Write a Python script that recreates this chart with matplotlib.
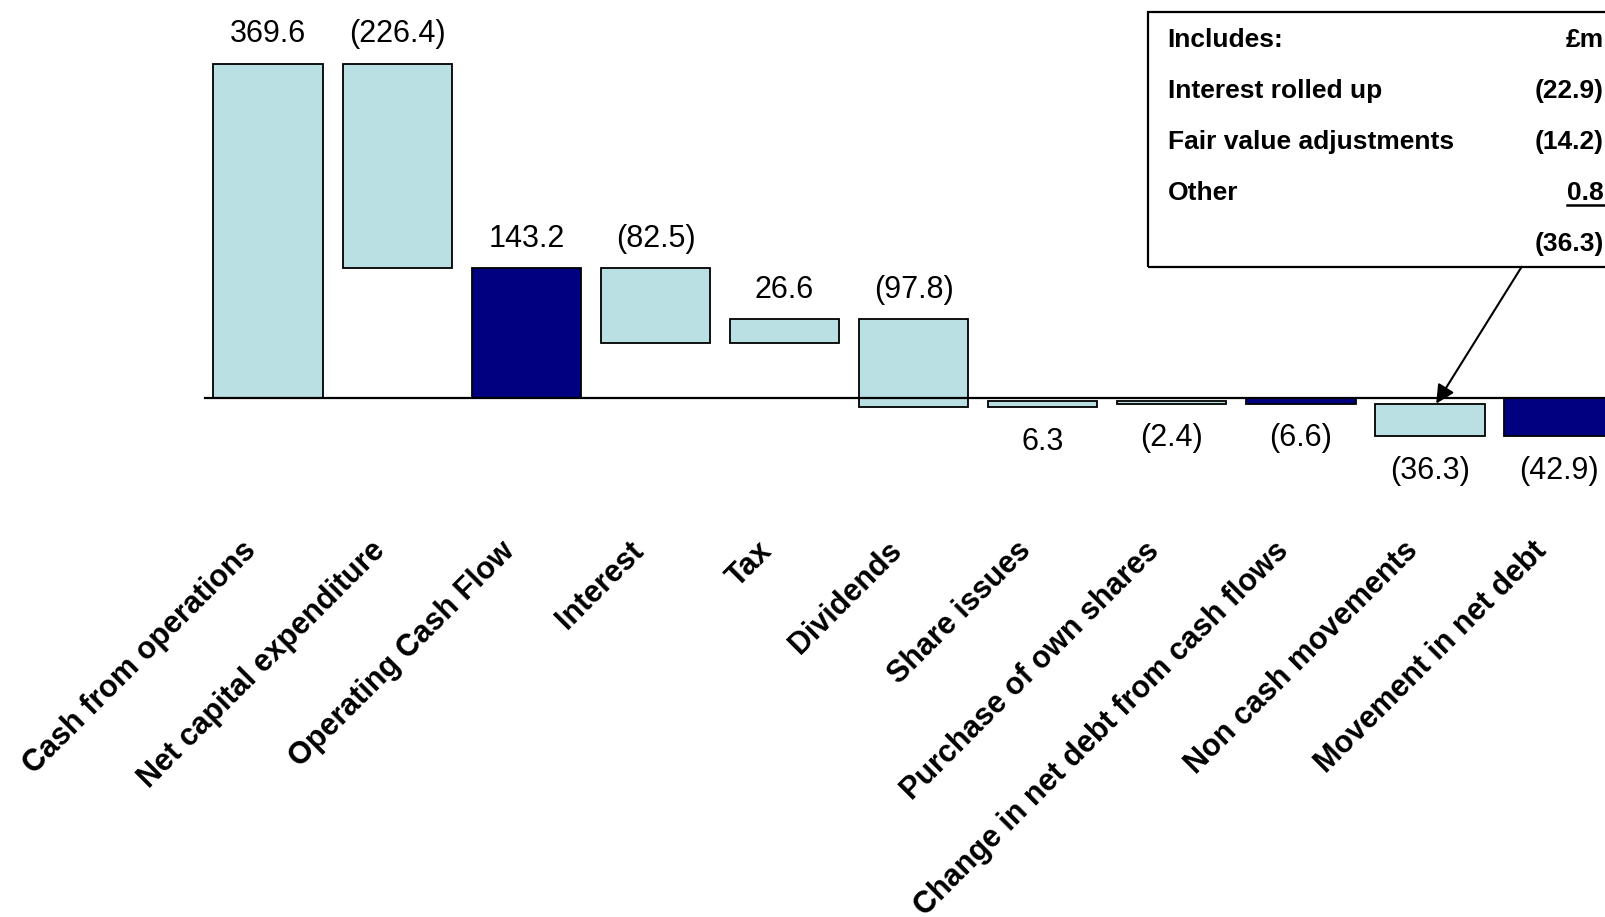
import numpy as np
import matplotlib
matplotlib.use('Agg')
import matplotlib.pyplot as plt
from matplotlib.patches import Rectangle
from matplotlib.lines import Line2D
from matplotlib.transforms import ScaledTranslation

plt.rcParams['font.family'] = ['Liberation Sans', 'DejaVu Sans']

categories = ['Cash from operations', 'Net capital expenditure', 'Operating Cash Flow',
              'Interest', 'Tax', 'Dividends', 'Share issues', 'Purchase of own shares',
              'Change in net debt from cash flows', 'Non cash movements', 'Movement in net debt']
values = [369.6, -226.4, 143.2, -82.5, 26.6, -97.8, 6.3, -2.4, -6.6, -36.3, -42.9]
is_total = [False, False, True, False, False, False, False, False, True, False, True]
value_labels = ['369.6', '(226.4)', '143.2', '(82.5)', '26.6', '(97.8)',
                '6.3', '(2.4)', '(6.6)', '(36.3)', '(42.9)']

box_items = ['Includes:', 'Interest rolled up', 'Fair value adjustments', 'Other', '']
box_amounts = ['£m', '(22.9)', '(14.2)', '0.8', '(36.3)']

light = '#BAE0E3'
navy = '#000080'

# waterfall bottoms
bottoms = []
running = 0
for v, t in zip(values, is_total):
    if t:
        bottoms.append(0)
        running = v
    else:
        bottoms.append(running)
        running += v
bottoms = np.array(bottoms)
heights = np.array(values)
x = np.arange(len(categories))

W, H = 1606, 917
fig = plt.figure(figsize=(W / 100, H / 100), dpi=100)
ax_bottom_px = 535
ax = fig.add_axes([0, 1 - ax_bottom_px / H, 1, ax_bottom_px / H])

px_per_unit = 0.904
base_px = 397.7
x0_px, step_px = 268.3, 129.05
xlo, xhi = -x0_px / step_px, (W - x0_px) / step_px
ax.set_xlim(xlo, xhi)
ax.set_ylim(-(ax_bottom_px - base_px) / px_per_unit, base_px / px_per_unit)

colors = [navy if t else light for t in is_total]
ax.bar(x, heights, bottom=bottoms, width=0.85, color=colors, edgecolor='black', linewidth=1.3, zorder=2)
ax.axhline(0, xmin=(-0.49 - xlo) / (xhi - xlo), color='black', lw=1.6, zorder=3)

for i in range(len(x)):
    lo = min(bottoms[i], bottoms[i] + heights[i])
    hi = max(bottoms[i], bottoms[i] + heights[i])
    if hi > 0:
        ax.annotate(value_labels[i], (x[i], hi), xytext=(0, 21), textcoords='offset points',
                    ha='center', va='center', fontsize=22)
    else:
        ax.annotate(value_labels[i], (x[i], lo), xytext=(0, -25), textcoords='offset points',
                    ha='center', va='center', fontsize=22)

for s in ax.spines.values():
    s.set_visible(False)
ax.set_yticks([])
ax.set_xticks(x)
ax.set_xticklabels(categories, rotation=45, ha='right', va='top', rotation_mode='anchor',
                   fontsize=22, fontweight='bold')
ax.tick_params(axis='x', length=0, pad=0)
shift = ScaledTranslation(-27 / 100, -1 / 100, fig.dpi_scale_trans)
for lab in ax.get_xticklabels():
    lab.set_transform(lab.get_transform() + shift)

# callout box
box = Rectangle((1148 / W, 1 - 267.3 / H), (1640 - 1148) / W, (267.3 - 12.3) / H,
                transform=fig.transFigure, fill=False, ec='black', lw=1.6)
fig.patches.append(box)
amt_texts = []
for k in range(len(box_items)):
    yb = 1 - (46.7 + 51.2 * k) / H
    fig.text(1167.6 / W, yb, box_items[k], fontsize=19, fontweight='bold', va='baseline')
    amt_texts.append(fig.text(1604 / W, yb, box_amounts[k], fontsize=19, fontweight='bold',
                              va='baseline', ha='right'))

fig.canvas.draw()
bb = amt_texts[3].get_window_extent()
uy = 1 - (46.7 + 51.2 * 3 + 5) / H
fig.lines.append(Line2D([bb.x0 / W, 1.0], [uy, uy], transform=fig.transFigure, color='black', lw=1.8))

ax.annotate('', xy=(9.05, bottoms[9]), xytext=(1521.7, H - 266.7), textcoords='figure pixels',
            arrowprops=dict(arrowstyle='-|>', color='black', lw=1.5, mutation_scale=28,
                            shrinkA=0, shrinkB=0), zorder=5)

fig.savefig('out.png', dpi=100)
